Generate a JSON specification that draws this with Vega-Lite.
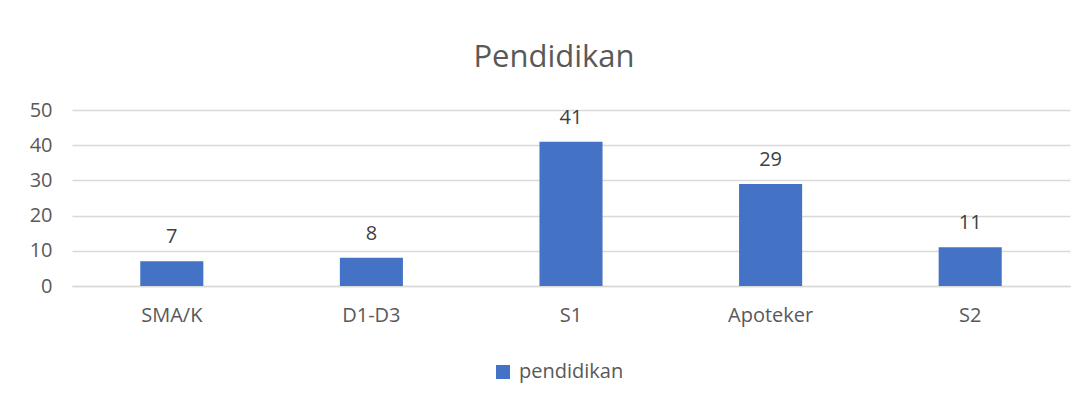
{
  "$schema": "https://vega.github.io/schema/vega-lite/v6.json",
  "width": 998,
  "height": 176,
  "autosize": "none",
  "padding": {"left": 72, "top": 110, "right": 20, "bottom": 115},
  "background": "white",
  "title": {
    "text": "Pendidikan",
    "font": "Open Sans",
    "fontSize": 31,
    "fontWeight": "normal",
    "color": "#595959",
    "anchor": "middle",
    "dx": -17,
    "offset": 26
  },
  "data": {
    "values": [
      {"pendidikan": "SMA/K", "jumlah": 7},
      {"pendidikan": "D1-D3", "jumlah": 8},
      {"pendidikan": "S1", "jumlah": 41},
      {"pendidikan": "Apoteker", "jumlah": 29},
      {"pendidikan": "S2", "jumlah": 11}
    ]
  },
  "encoding": {
    "x": {
      "field": "pendidikan",
      "type": "nominal",
      "sort": null,
      "scale": {"paddingInner": 0.684, "paddingOuter": 0.342},
      "axis": {
        "title": null,
        "labelAngle": 0,
        "labelFont": "Open Sans",
        "labelFontSize": 20,
        "labelColor": "#595959",
        "labelPadding": 19,
        "ticks": false,
        "domain": true,
        "domainColor": "#d9d9d9",
        "domainWidth": 1.5,
        "grid": false
      }
    },
    "y": {
      "field": "jumlah",
      "type": "quantitative",
      "scale": {"domain": [0, 50], "nice": false},
      "axis": {
        "title": null,
        "values": [0, 10, 20, 30, 40, 50],
        "labelFont": "Open Sans",
        "labelFontSize": 20,
        "labelColor": "#595959",
        "labelPadding": 20,
        "ticks": false,
        "domain": false,
        "grid": true,
        "gridColor": "#d9d9d9",
        "gridWidth": 1.5
      }
    }
  },
  "layer": [
    {
      "mark": {"type": "bar", "color": "#4472C4"},
      "encoding": {
        "color": {
          "datum": "pendidikan",
          "type": "nominal",
          "scale": {"range": ["#4472C4"]},
          "legend": {
            "title": null,
            "orient": "none",
            "legendX": 421,
            "legendY": 252,
            "padding": 0,
            "symbolType": "square",
            "symbolSize": 196,
            "symbolStrokeWidth": 0,
            "labelFont": "Open Sans",
            "labelFontSize": 20,
            "labelColor": "#595959",
            "labelOffset": 6
          }
        }
      }
    },
    {
      "mark": {
        "type": "text",
        "baseline": "bottom",
        "dy": -14,
        "font": "Open Sans",
        "fontSize": 20,
        "color": "#404040"
      },
      "encoding": {"text": {"field": "jumlah", "type": "quantitative"}}
    }
  ],
  "config": {"view": {"stroke": null}}
}
